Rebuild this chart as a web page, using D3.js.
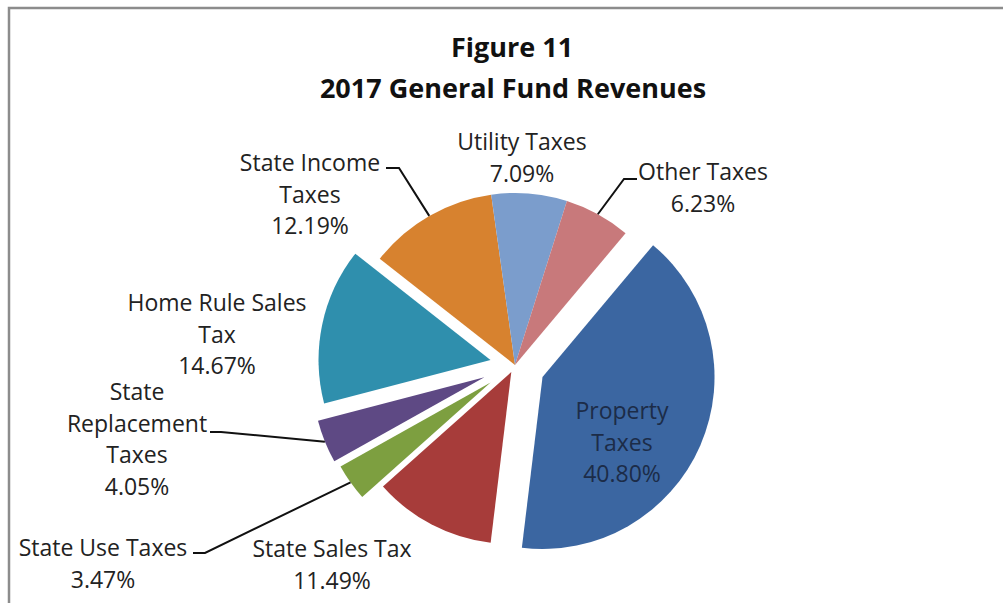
<!DOCTYPE html>
<html>
<head>
<meta charset="utf-8">
<script src="https://cdn.jsdelivr.net/npm/d3@7/dist/d3.min.js"></script>
<style>
  body { margin: 0; background: #fff; }
  text { font-family: "Open Sans", sans-serif; }
</style>
</head>
<body>
<div id="chart"></div>
<script>
// data
var categories = ["Property Taxes", "State Sales Tax", "State Use Taxes", "State Replacement Taxes",
                  "Home Rule Sales Tax", "State Income Taxes", "Utility Taxes", "Other Taxes"];
var shares = [40.80, 11.49, 3.47, 4.05, 14.67, 12.19, 7.09, 6.23];
var labelLines = [["Property", "Taxes", "40.80%"], ["State Sales Tax", "11.49%"], ["State Use Taxes", "3.47%"],
                  ["State", "Replacement", "Taxes", "4.05%"], ["Home Rule Sales", "Tax", "14.67%"],
                  ["State Income", "Taxes", "12.19%"], ["Utility Taxes", "7.09%"], ["Other Taxes", "6.23%"]];

var colors = ["#3b66a1", "#a73c3a", "#7d9f40", "#5e4984", "#2f8fad", "#d7822f", "#7b9dcc", "#c8797b"];
// how far each slice is pulled out
var explode = [30, 8, 30, 33, 25, 0, 0, 0];
// label placement: centre x, first line y, hook (text end point) if it has a leader line
var labelPos = [
  {x: 622, y: 419, fill: "#1c2c48"},
  {x: 332, y: 557},
  {x: 103, y: 556, hook: [193, 553, 205]},
  {x: 137, y: 400, hook: [210, 432, 221]},
  {x: 217, y: 311},
  {x: 310, y: 171, hook: [386, 168, 399]},
  {x: 522, y: 150},
  {x: 703, y: 180, hook: [637, 179, 624]}
];

var width = 1003, height = 603;
var cx = 515, cy = 365, r = 172;

var svg = d3.select("#chart").append("svg")
  .attr("width", width).attr("height", height);

// frame
svg.append("path")
  .attr("d", "M9,603 L9,8 L1003,8")
  .attr("fill", "none").attr("stroke", "#8c8c8c").attr("stroke-width", 2.5);

// title
svg.append("text").attr("x", 512).attr("y", 57).attr("text-anchor", "middle")
  .attr("font-weight", "bold").attr("font-size", 27).attr("fill", "#111").text("Figure 11");
svg.append("text").attr("x", 513).attr("y", 98).attr("text-anchor", "middle")
  .attr("font-weight", "bold").attr("font-size", 27).attr("fill", "#111").text("2017 General Fund Revenues");

var data = categories.map(function(c, i) { return {name: c, value: shares[i], i: i}; });

var pie = d3.pie().sort(null).value(function(d) { return d.value; })
  .startAngle(40 * Math.PI / 180).endAngle(40 * Math.PI / 180 + 2 * Math.PI);
var arcs = pie(data);
var arc = d3.arc().innerRadius(0).outerRadius(r);

function offset(d) {
  var a = (d.startAngle + d.endAngle) / 2, e = explode[d.data.i];
  return [Math.sin(a) * e, -Math.cos(a) * e];
}

var g = svg.append("g").attr("transform", "translate(" + cx + "," + cy + ")");

g.selectAll(".slice").data(arcs).enter().append("path")
  .attr("class", "slice")
  .attr("transform", function(d) { var o = offset(d); return "translate(" + o[0] + "," + o[1] + ")"; })
  .attr("d", arc)
  .attr("fill", function(d) { return colors[d.data.i]; });

// leader lines
arcs.forEach(function(d) {
  var p = labelPos[d.data.i];
  if (!p.hook) return;
  var a = (d.startAngle + d.endAngle) / 2, o = offset(d);
  var ex = cx + o[0] + Math.sin(a) * r, ey = cy + o[1] - Math.cos(a) * r;
  svg.append("path")
    .attr("d", "M" + p.hook[0] + "," + p.hook[1] + " L" + p.hook[2] + "," + p.hook[1] + " L" + ex + "," + ey)
    .attr("fill", "none").attr("stroke", "#111").attr("stroke-width", 2);
});

// labels
arcs.forEach(function(d) {
  var p = labelPos[d.data.i];
  var t = svg.append("text").attr("text-anchor", "middle").attr("font-size", 23)
    .attr("fill", p.fill || "#222");
  labelLines[d.data.i].forEach(function(s, k) {
    t.append("tspan").attr("x", p.x).attr("y", p.y + k * 31.5).text(s);
  });
});
</script>
</body>
</html>
